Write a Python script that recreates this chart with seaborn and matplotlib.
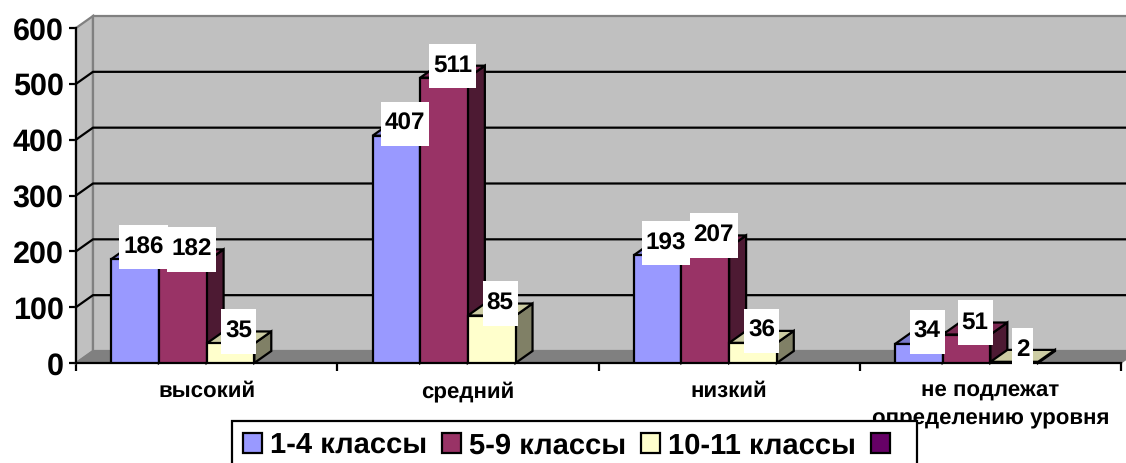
import numpy as np
import pandas as pd
import matplotlib.pyplot as plt
import matplotlib.colors as mcolors
from matplotlib.path import Path
from matplotlib.patches import Polygon
import seaborn as sns

# donnees
categories = ["высокий", "средний", "низкий", "не подлежат\nопределению уровня"]
series_names = ["1-4 классы", "5-9 классы", "10-11 классы", " "]
values_1_4 = [186, 407, 193, 34]
values_5_9 = [182, 511, 207, 51]
values_10_11 = [35, 85, 36, 2]
values_empty = [np.nan, np.nan, np.nan, np.nan]
y_ticks = [0, 100, 200, 300, 400, 500, 600]
colors = ["#9999FF", "#993366", "#FFFFCC", "#660066"]

df = pd.DataFrame({
    "niveau": categories * 4,
    "serie": [s for s in series_names for _ in categories],
    "valeur": values_1_4 + values_5_9 + values_10_11 + values_empty,
})

sns.set_theme(style="white")
plt.rcParams["font.family"] = ["Liberation Sans", "DejaVu Sans"]
plt.rcParams["font.weight"] = "bold"
plt.rcParams["text.color"] = "black"
plt.rcParams["xtick.color"] = "black"
plt.rcParams["ytick.color"] = "black"
plt.rcParams["text.hinting"] = "no_hinting"

W, H = 1126, 463
fig = plt.figure(figsize=(W / 100, H / 100), dpi=100)
ax = fig.add_axes([76 / W, 1 - 363 / H, (1121 - 76) / W, (363 - 28) / H])
ax.patch.set_visible(False)

sns.barplot(data=df, x="niveau", y="valeur", hue="serie", order=categories,
            hue_order=series_names, palette=colors, width=0.73, gap=0,
            saturation=1, edgecolor="black", linewidth=1.6, ax=ax, zorder=5)
ax.set_xlim(-0.5, 3.5)
ax.set_ylim(0, 600)
ax.set_xlabel("")
ax.set_ylabel("")

# barres dessinees par seaborn, triees de gauche a droite (sans les patchs vides de la legende)
bars = [p for p in ax.patches if np.isfinite(p.get_height()) and p.get_width() > 0]
bars = sorted(bars, key=lambda p: p.get_x())

# decalage de la profondeur "3D"
DX = 0.065
DY = 21.5
x0, x1 = ax.get_xlim()


def face(points, color, z, edge="black", lw=1.6):
    ax.add_patch(Polygon(points, closed=True, facecolor=color, edgecolor=edge,
                         linewidth=lw, zorder=z, clip_on=False))


# murs et sol
face([(x0, 0), (x0, 600), (x0 + DX, 600 + DY), (x0 + DX, DY)], "#C0C0C0", 1, "#808080", 1.6)
face([(x0 + DX, DY), (x0 + DX, 600 + DY), (x1 + DX, 600 + DY), (x1 + DX, DY)], "#C0C0C0", 1, "#808080", 1.6)
face([(x0, 0), (x0 + DX, DY), (x1 + DX, DY), (x1, 0)], "#808080", 2, "#808080", 1)

for v in y_ticks[1:-1]:
    ax.plot([x0, x0 + DX, x1 + DX], [v, v + DY, v + DY], color="black", lw=1.6,
            zorder=3, clip_on=False)

# faces laterales et superieures des barres
for i, bar in enumerate(bars):
    left, w, h = bar.get_x(), bar.get_width(), bar.get_height()
    rgb = np.array(mcolors.to_rgb(bar.get_facecolor()))
    z = 5 + 3 * i
    face([(left + w, 0), (left + w + DX, DY), (left + w + DX, h + DY), (left + w, h)], rgb * 0.5, z)
    face([(left, h), (left + DX, h + DY), (left + w + DX, h + DY), (left + w, h)], rgb * 0.8, z + 1)
    bar.set_zorder(z + 2)


def label_box(x, y, width, height, mutation_size):
    # boite blanche plus haute que large
    pad_x, pad_y = 4, 11
    x, y = x - pad_x, y - pad_y
    width, height = width + 2 * pad_x, height + 2 * pad_y
    return Path([(x, y), (x + width, y), (x + width, y + height), (x, y + height), (x, y)], closed=True)


for bar in bars:
    h = bar.get_height()
    ax.text(bar.get_x() + bar.get_width() / 2 + DX / 2, h + DY, f"{h:.0f}",
            ha="center", va="center", fontsize=17.5, fontweight="bold", color="black",
            zorder=200, bbox=dict(boxstyle=label_box, facecolor="white", edgecolor="none"))

# axes
sns.despine(ax=ax, top=True, right=True)
for side in ["left", "bottom"]:
    ax.spines[side].set_color("black")
    ax.spines[side].set_linewidth(1.6)
    ax.spines[side].set_zorder(4)
ax.set_yticks(y_ticks)
ax.set_xticks([x0, 0.5, 1.5, 2.5, x1], minor=False, labels=["", "", "", "", ""])
ax.set_xticks([0, 1, 2, 3], minor=True, labels=categories)
ax.tick_params(axis="y", length=5, width=1.6, color="black", left=True, labelsize=22, labelcolor="black", pad=4)
ax.tick_params(axis="x", which="major", length=6, width=1.6, color="black", bottom=True)
ax.tick_params(axis="x", which="minor", length=0, labelsize=16, labelcolor="black", pad=13)
for t in ax.get_xticklabels(minor=True):
    t.set_linespacing(1.41)
    t.set_fontweight("bold")
for t in ax.get_yticklabels():
    t.set_fontweight("bold")

# legende coupee par le bas de l'image
sns.move_legend(ax, "center", bbox_to_anchor=(574.5 / W, 1 - 446 / H), bbox_transform=fig.transFigure,
                ncols=4, title=None, fontsize=21, frameon=True, fancybox=False, framealpha=1,
                edgecolor="black", handlelength=0.66, handleheight=0.66, handletextpad=0.27,
                columnspacing=0.5, borderpad=0.38, borderaxespad=0, labelcolor="black")
leg = ax.get_legend()
leg.get_frame().set_linewidth(1.6)
leg.set_zorder(100)
leg.set_clip_on(False)

fig.savefig("out.png", dpi=100)
